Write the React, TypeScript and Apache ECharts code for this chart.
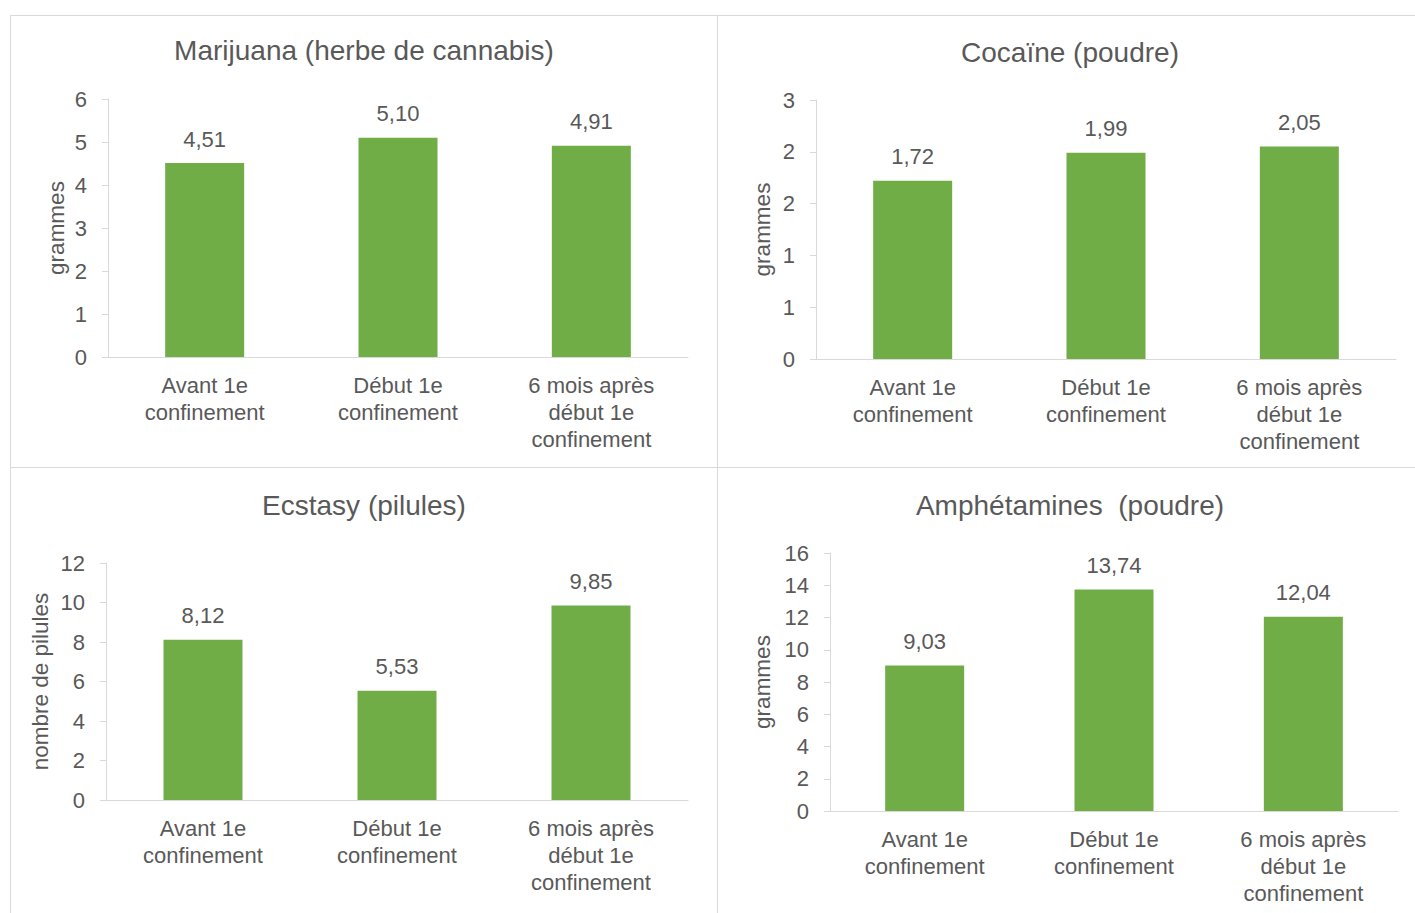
import React, { useEffect, useRef } from "react";
import * as echarts from "echarts";

const categories = ["Avant 1e\nconfinement", "Début 1e\nconfinement", "6 mois après\ndébut 1e\nconfinement"];
const marijuana = [4.51, 5.10, 4.91];
const cocaine = [1.72, 1.99, 2.05];
const ecstasy = [8.12, 5.53, 9.85];
const amphetamines = [9.03, 13.74, 12.04];

const titles = ["Marijuana (herbe de cannabis)", "Cocaïne (poudre)", "Ecstasy (pilules)", "Amphétamines  (poudre)"];
const yNames = ["grammes", "grammes", "nombre de pilules", "grammes"];
const yMax = [6, 2.5, 12, 16];
const yInterval = [1, 0.5, 2, 2];

const FONT = "'Liberation Sans', Arial, sans-serif";
const TXT = "#595959";
const GREEN = "#70AD47";
const BORDER = "#d9d9d9";

const panels = [
  { grid: { left: 108, top: 99, width: 580, height: 258 }, title: [364, 50], nameGap: 40, box: [10, 15, 707, 452] },
  { grid: { left: 816, top: 100, width: 580, height: 259 }, title: [1070, 52], nameGap: 42, box: [717, 15, 700, 452] },
  { grid: { left: 106, top: 563, width: 582, height: 237 }, title: [364, 505], nameGap: 54, box: [10, 467, 707, 446] },
  { grid: { left: 830, top: 553, width: 568, height: 258 }, title: [1070, 505], nameGap: 56, box: [717, 467, 700, 446] },
];

const seriesData = [marijuana, cocaine, ecstasy, amphetamines];

export default function App() {
  const ref = useRef<HTMLDivElement>(null);
  useEffect(() => {
    if (!ref.current) return;
    const chart = echarts.init(ref.current, undefined, { renderer: "svg" });
    const option: any = {
      animation: false,
      backgroundColor: "#ffffff",
      textStyle: { fontFamily: FONT },
      grid: panels.map((p) => ({ ...p.grid, containLabel: false })),
      xAxis: panels.map((p, i) => ({
        type: "category",
        gridIndex: i,
        data: categories,
        axisLine: { show: true, lineStyle: { color: BORDER, width: 1 } },
        axisTick: { show: false },
        axisLabel: { color: TXT, fontSize: 22, lineHeight: 27, margin: 15, fontFamily: FONT, interval: 0 },
      })),
      yAxis: panels.map((p, i) => ({
        type: "value",
        gridIndex: i,
        min: 0,
        max: yMax[i],
        interval: yInterval[i],
        name: yNames[i],
        nameLocation: "middle",
        nameGap: p.nameGap,
        nameRotate: 90,
        nameTextStyle: { color: TXT, fontSize: 22.5, fontFamily: FONT },
        axisLine: { show: true, lineStyle: { color: BORDER, width: 1 } },
        axisTick: { show: true, length: 6, lineStyle: { color: BORDER } },
        splitLine: { show: false },
        axisLabel: {
          color: TXT,
          fontSize: 22,
          margin: 21,
          fontFamily: FONT,
          formatter: (v: number) => String(Math.round(v)),
        },
      })),
      series: seriesData.map((d, i) => ({
        type: "bar",
        xAxisIndex: i,
        yAxisIndex: i,
        data: d,
        barWidth: 79,
        itemStyle: { color: GREEN },
        label: {
          show: true,
          position: "top",
          distance: 13,
          color: TXT,
          fontSize: 22,
          fontFamily: FONT,
          formatter: (p: any) => p.value.toFixed(2).replace(".", ","),
        },
      })),
      graphic: [
        ...panels.map((p) => ({
          type: "rect",
          shape: { x: p.box[0] + 0.5, y: p.box[1] + 0.5, width: p.box[2], height: p.box[3] },
          style: { fill: "none", stroke: BORDER, lineWidth: 1 },
          silent: true,
        })),
        ...panels.map((p, i) => ({
          type: "text",
          x: p.title[0],
          y: p.title[1],
          style: {
            text: titles[i],
            fill: TXT,
            font: `28px ${FONT}`,
            align: "center",
            verticalAlign: "middle",
          },
        })),
      ],
    };
    chart.setOption(option);
    return () => chart.dispose();
  }, []);
  return (
    <div
      ref={ref}
      style={{ position: "fixed", left: 0, top: 0, width: 1415, height: 913, background: "#fff" }}
    />
  );
}
